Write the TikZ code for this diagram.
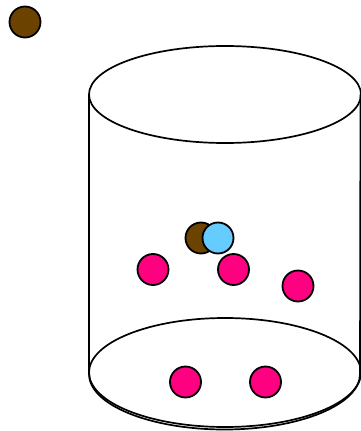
\documentclass[tikz,border=0pt]{standalone}
\definecolor{ballbrown}{HTML}{6B4200}
\definecolor{ballblue}{HTML}{66CCFF}
\definecolor{ballpink}{HTML}{FF0080}
\begin{document}
\begin{tikzpicture}[
    x=1pt, y=-1pt,
    ball/.style={circle, draw, line width=1.8pt, fill=#1, minimum size=31pt, inner sep=0pt},
    rim/.style={draw, line width=1.7pt}
]
\useasboundingbox (0,0) rectangle (361,431);

% Cylinder: top rim, walls, base
\draw[rim] (225,94.5) ellipse [x radius=136, y radius=48.5];
\draw[rim] (89,94.5) -- (89,374) arc[start angle=180, end angle=0, x radius=135.5, y radius=55.5] -- (360.5,94.5);
\draw[rim] (225,372.5) ellipse [x radius=136, y radius=54.5];

% Ball outside the cylinder
\node[ball=ballbrown] (outside) at (25,22) {};

% Balls floating inside
\node[ball=ballbrown] (pairbrown) at (201,238) {};
\node[ball=ballblue] (pairblue) at (218,238) {};
\node[ball=ballpink] (midleft) at (153,269.5) {};
\node[ball=ballpink] (midright) at (233.5,269.5) {};
\node[ball=ballpink] (farright) at (298,286) {};

% Balls on the base
\node[ball=ballpink] (baseleft) at (185.5,382) {};
\node[ball=ballpink] (baseright) at (265.5,382) {};
\end{tikzpicture}
\end{document}
